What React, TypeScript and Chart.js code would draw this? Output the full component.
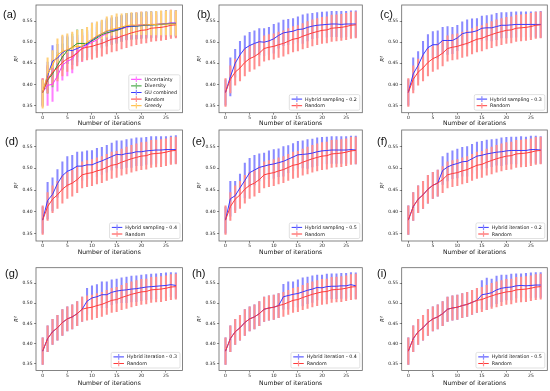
import React, { useEffect, useRef } from "react";
import { Chart, registerables } from "chart.js";

Chart.register(...registerables);
Chart.defaults.font.family = '"DejaVu Sans", sans-serif';

// ---------------- data ----------------
const ITERATIONS = [0, 1, 2, 3, 4, 5, 6, 7, 8, 9, 10, 11, 12, 13, 14, 15, 16, 17, 18, 19, 20, 21, 22, 23, 24, 25, 26, 27];
const X_TICKS = [0, 5, 10, 15, 20, 25];
const Y_TICKS = [0.35, 0.4, 0.45, 0.5, 0.55];

const RANDOM_MEAN = [0.381, 0.412, 0.429, 0.439, 0.452, 0.461, 0.466, 0.474, 0.485, 0.488, 0.490, 0.494, 0.497, 0.502, 0.507, 0.509, 0.514, 0.518, 0.522, 0.525, 0.528, 0.529, 0.533, 0.534, 0.535, 0.537, 0.540, 0.541];
const RANDOM_STD = [0.033, 0.032, 0.031, 0.031, 0.032, 0.030, 0.030, 0.030, 0.030, 0.030, 0.030, 0.030, 0.030, 0.030, 0.030, 0.030, 0.030, 0.031, 0.031, 0.031, 0.031, 0.031, 0.031, 0.031, 0.031, 0.031, 0.031, 0.031];

// panel (a)
const UNCERTAINTY_MEAN = [0.381, 0.398, 0.400, 0.420, 0.445, 0.455, 0.460, 0.478, 0.485, 0.493, 0.500, 0.505, 0.515, 0.520, 0.525, 0.528, 0.532, 0.535, 0.538, 0.540, 0.541, 0.541, 0.542, 0.542, 0.543, 0.544, 0.545, 0.545];
const UNCERTAINTY_STD = [0.033, 0.048, 0.040, 0.036, 0.035, 0.035, 0.033, 0.032, 0.031, 0.031, 0.030, 0.030, 0.030, 0.030, 0.030, 0.030, 0.030, 0.030, 0.030, 0.030, 0.030, 0.030, 0.030, 0.030, 0.030, 0.030, 0.031, 0.030];
const DIVERSITY_MEAN = [0.381, 0.410, 0.425, 0.445, 0.465, 0.480, 0.488, 0.497, 0.497, 0.497, 0.503, 0.510, 0.518, 0.522, 0.525, 0.528, 0.532, 0.537, 0.537, 0.538, 0.539, 0.540, 0.541, 0.541, 0.542, 0.543, 0.544, 0.544];
const DIVERSITY_STD = [0.030, 0.031, 0.031, 0.031, 0.031, 0.031, 0.031, 0.032, 0.033, 0.031, 0.031, 0.031, 0.031, 0.031, 0.031, 0.031, 0.031, 0.031, 0.031, 0.031, 0.031, 0.031, 0.031, 0.031, 0.031, 0.031, 0.031, 0.031];
const GU_MEAN = [0.381, 0.420, 0.455, 0.462, 0.475, 0.482, 0.480, 0.485, 0.490, 0.495, 0.505, 0.513, 0.520, 0.526, 0.528, 0.530, 0.533, 0.537, 0.538, 0.538, 0.540, 0.541, 0.541, 0.542, 0.543, 0.544, 0.545, 0.545];
const GU_STD = [0.030, 0.033, 0.037, 0.033, 0.038, 0.033, 0.033, 0.032, 0.032, 0.032, 0.040, 0.031, 0.031, 0.030, 0.030, 0.030, 0.030, 0.030, 0.030, 0.030, 0.030, 0.030, 0.030, 0.030, 0.030, 0.030, 0.030, 0.030];
const GREEDY_MEAN = [0.381, 0.425, 0.445, 0.470, 0.478, 0.482, 0.488, 0.490, 0.490, 0.500, 0.507, 0.515, 0.520, 0.527, 0.530, 0.533, 0.536, 0.539, 0.541, 0.540, 0.541, 0.541, 0.542, 0.542, 0.543, 0.543, 0.543, 0.543];
const GREEDY_ERR_UP = [0.029, 0.038, 0.035, 0.038, 0.039, 0.038, 0.036, 0.038, 0.040, 0.035, 0.038, 0.033, 0.032, 0.033, 0.033, 0.034, 0.031, 0.029, 0.029, 0.030, 0.031, 0.031, 0.030, 0.031, 0.031, 0.031, 0.033, 0.032];
const GREEDY_ERR_DOWN = [0.037, 0.000, 0.005, 0.018, 0.010, 0.006, 0.008, 0.002, 0.000, 0.003, 0.005, 0.010, 0.012, 0.015, 0.014, 0.017, 0.019, 0.021, 0.023, 0.022, 0.023, 0.023, 0.025, 0.025, 0.026, 0.026, 0.026, 0.027];

// hybrid sampling (b)-(e)
const HS02_MEAN = [0.381, 0.418, 0.450, 0.470, 0.485, 0.492, 0.497, 0.501, 0.500, 0.503, 0.508, 0.516, 0.522, 0.524, 0.526, 0.530, 0.531, 0.535, 0.538, 0.540, 0.541, 0.542, 0.543, 0.543, 0.542, 0.543, 0.543, 0.543];
const HS02_STD = [0.030, 0.045, 0.033, 0.032, 0.030, 0.031, 0.030, 0.031, 0.032, 0.032, 0.034, 0.030, 0.030, 0.030, 0.030, 0.030, 0.034, 0.032, 0.030, 0.030, 0.030, 0.030, 0.030, 0.030, 0.031, 0.030, 0.031, 0.031];
const HS03_MEAN = [0.381, 0.425, 0.445, 0.470, 0.487, 0.494, 0.494, 0.504, 0.504, 0.504, 0.510, 0.520, 0.523, 0.524, 0.527, 0.533, 0.534, 0.534, 0.537, 0.540, 0.540, 0.541, 0.542, 0.542, 0.542, 0.542, 0.542, 0.542];
const HS03_STD = [0.030, 0.038, 0.033, 0.032, 0.031, 0.031, 0.033, 0.031, 0.033, 0.031, 0.030, 0.028, 0.030, 0.031, 0.029, 0.029, 0.029, 0.031, 0.031, 0.030, 0.030, 0.030, 0.030, 0.030, 0.030, 0.030, 0.030, 0.031];
const HS04_MEAN = [0.381, 0.426, 0.440, 0.465, 0.483, 0.493, 0.498, 0.505, 0.505, 0.508, 0.508, 0.513, 0.517, 0.522, 0.527, 0.532, 0.531, 0.534, 0.535, 0.538, 0.538, 0.540, 0.541, 0.542, 0.542, 0.543, 0.543, 0.543];
const HS04_STD = [0.030, 0.042, 0.038, 0.032, 0.032, 0.034, 0.032, 0.032, 0.033, 0.032, 0.033, 0.033, 0.031, 0.031, 0.031, 0.031, 0.032, 0.032, 0.033, 0.032, 0.032, 0.031, 0.032, 0.031, 0.031, 0.030, 0.031, 0.032];
const HS05_MEAN = [0.381, 0.430, 0.437, 0.455, 0.472, 0.490, 0.496, 0.502, 0.505, 0.508, 0.510, 0.513, 0.516, 0.521, 0.526, 0.531, 0.532, 0.533, 0.535, 0.538, 0.540, 0.541, 0.542, 0.542, 0.542, 0.542, 0.543, 0.542];
const HS05_STD = [0.030, 0.040, 0.033, 0.032, 0.040, 0.033, 0.034, 0.031, 0.030, 0.032, 0.033, 0.032, 0.034, 0.031, 0.031, 0.031, 0.031, 0.033, 0.032, 0.032, 0.031, 0.031, 0.031, 0.031, 0.031, 0.031, 0.031, 0.032];

// hybrid iteration (f)-(i)
const HI02_MEAN = [0.381, 0.412, 0.429, 0.439, 0.452, 0.461, 0.466, 0.495, 0.503, 0.508, 0.511, 0.515, 0.516, 0.522, 0.528, 0.530, 0.533, 0.535, 0.537, 0.538, 0.540, 0.541, 0.541, 0.541, 0.541, 0.543, 0.543, 0.542];
const HI02_STD = [0.033, 0.032, 0.031, 0.031, 0.032, 0.030, 0.030, 0.032, 0.032, 0.032, 0.033, 0.033, 0.034, 0.033, 0.032, 0.032, 0.032, 0.031, 0.030, 0.032, 0.031, 0.031, 0.031, 0.032, 0.031, 0.031, 0.031, 0.031];
const HI03_MEAN = [0.381, 0.412, 0.429, 0.439, 0.452, 0.461, 0.466, 0.474, 0.485, 0.505, 0.513, 0.516, 0.521, 0.521, 0.527, 0.530, 0.532, 0.533, 0.535, 0.536, 0.538, 0.540, 0.541, 0.542, 0.543, 0.544, 0.546, 0.544];
const HI03_STD = [0.033, 0.032, 0.031, 0.031, 0.032, 0.030, 0.030, 0.030, 0.030, 0.032, 0.030, 0.030, 0.032, 0.032, 0.031, 0.030, 0.031, 0.032, 0.032, 0.032, 0.032, 0.031, 0.031, 0.031, 0.031, 0.031, 0.030, 0.031];
const HI04_MEAN = [0.381, 0.412, 0.429, 0.439, 0.452, 0.461, 0.466, 0.474, 0.485, 0.488, 0.490, 0.494, 0.516, 0.519, 0.522, 0.524, 0.528, 0.532, 0.535, 0.539, 0.538, 0.541, 0.542, 0.542, 0.543, 0.543, 0.546, 0.543];
const HI04_STD = [0.033, 0.032, 0.031, 0.031, 0.032, 0.030, 0.030, 0.030, 0.030, 0.030, 0.030, 0.030, 0.031, 0.034, 0.031, 0.034, 0.035, 0.033, 0.033, 0.031, 0.032, 0.031, 0.031, 0.031, 0.031, 0.031, 0.030, 0.032];
const HI05_MEAN = [0.381, 0.412, 0.429, 0.439, 0.452, 0.461, 0.466, 0.474, 0.485, 0.488, 0.490, 0.494, 0.497, 0.502, 0.507, 0.521, 0.523, 0.526, 0.533, 0.537, 0.539, 0.540, 0.543, 0.544, 0.543, 0.544, 0.545, 0.545];
const HI05_STD = [0.033, 0.032, 0.031, 0.031, 0.032, 0.030, 0.030, 0.030, 0.030, 0.030, 0.030, 0.030, 0.030, 0.030, 0.030, 0.035, 0.039, 0.034, 0.034, 0.033, 0.031, 0.032, 0.030, 0.029, 0.031, 0.031, 0.031, 0.031];

// ---------------- styles ----------------
const C_BLUE = { line: "#3838ff", bar: "#8a8aff" };
const C_RED = { line: "#ff3a3a", bar: "#ff8e8e" };
const C_MAGENTA = { line: "#ff33ff", bar: "#ff80ff" };
const C_GREEN = { line: "#2a9a2a", bar: "#80c080" };
const C_ORANGE = { line: "#ffb52e", bar: "#ffd07a" };

type Series = { name: string; mean: number[]; down: number[]; up: number[]; color: { line: string; bar: string } };

const randomSeries: Series = { name: "Random", mean: RANDOM_MEAN, down: RANDOM_STD, up: RANDOM_STD, color: C_RED };
const hybrid = (name: string, mean: number[], std: number[]): Series => ({ name, mean, down: std, up: std, color: C_BLUE });

const PANELS: { label: string; series: Series[] }[] = [
  {
    label: "(a)",
    series: [
      { name: "Uncertainty", mean: UNCERTAINTY_MEAN, down: UNCERTAINTY_STD, up: UNCERTAINTY_STD, color: C_MAGENTA },
      { name: "Diversity", mean: DIVERSITY_MEAN, down: DIVERSITY_STD, up: DIVERSITY_STD, color: C_GREEN },
      { name: "GU combined", mean: GU_MEAN, down: GU_STD, up: GU_STD, color: C_BLUE },
      randomSeries,
      { name: "Greedy", mean: GREEDY_MEAN, down: GREEDY_ERR_DOWN, up: GREEDY_ERR_UP, color: C_ORANGE },
    ],
  },
  { label: "(b)", series: [hybrid("Hybrid sampling - 0.2", HS02_MEAN, HS02_STD), randomSeries] },
  { label: "(c)", series: [hybrid("Hybrid sampling - 0.3", HS03_MEAN, HS03_STD), randomSeries] },
  { label: "(d)", series: [hybrid("Hybrid sampling - 0.4", HS04_MEAN, HS04_STD), randomSeries] },
  { label: "(e)", series: [hybrid("Hybrid sampling - 0.5", HS05_MEAN, HS05_STD), randomSeries] },
  { label: "(f)", series: [hybrid("Hybrid iteration - 0.2", HI02_MEAN, HI02_STD), randomSeries] },
  { label: "(g)", series: [hybrid("Hybrid iteration - 0.3", HI03_MEAN, HI03_STD), randomSeries] },
  { label: "(h)", series: [hybrid("Hybrid iteration - 0.4", HI04_MEAN, HI04_STD), randomSeries] },
  { label: "(i)", series: [hybrid("Hybrid iteration - 0.5", HI05_MEAN, HI05_STD), randomSeries] },
];

// layout geometry (page pixels)
const COLS = [
  { left: 0, boxL: 36, boxR: 182.5 },
  { left: 183, boxL: 219, boxR: 362.3 },
  { left: 366, boxL: 401.7, boxR: 547.3 },
];
const ROWS = [
  { top: 0, boxT: 5, boxB: 112.7, titleC: 123, bottom: 128 },
  { top: 124, boxT: 130, boxB: 241, titleC: 252, bottom: 257 },
  { top: 254, boxT: 267.7, boxB: 370.5, titleC: 383, bottom: 391 },
];
const LABEL_POS = [
  { x: 3, y: 14 }, { x: 197, y: 14 }, { x: 380, y: 14 },
  { x: 5, y: 141 }, { x: 192, y: 141 }, { x: 377, y: 141 },
  { x: 5, y: 273 }, { x: 192, y: 273 }, { x: 377, y: 273 },
];
const CANVAS_W = 184;
const TICK_FONT = 4.5;
const XTITLE_FONT = 6.1;
const YTITLE_FONT = 5.5;
const LEG_FONT = 4.8;
const ERR_WIDTH = 1.4;

const framePlugin = {
  id: "frameLegend",
  afterDraw(chart: any) {
    const { ctx, chartArea: a } = chart;
    ctx.save();
    ctx.strokeStyle = "rgba(0,0,0,0.6)";
    ctx.lineWidth = 0.8;
    ctx.strokeRect(a.left, a.top, a.right - a.left, a.bottom - a.top);

    const items = chart.data.datasets.filter((d: any) => d.type === "line" && d.label);
    ctx.font = `${LEG_FONT}px "DejaVu Sans"`;
    const tw = Math.max(...items.map((d: any) => ctx.measureText(d.label).width));
    const rowH = 6.6, handle = 10.5, gap = 3, padL = 2.3, padR = 3, padV = 1.2;
    const w = padL + handle + gap + tw + padR;
    const h = items.length * rowH + 2 * padV;
    const x0 = a.right - 2.5 - w;
    const y0 = a.bottom - 2.5 - h;
    ctx.beginPath();
    ctx.roundRect(x0, y0, w, h, 1.5);
    ctx.fillStyle = "rgba(255,255,255,0.85)";
    ctx.fill();
    ctx.strokeStyle = "#cccccc";
    ctx.lineWidth = 0.6;
    ctx.stroke();
    items.forEach((d: any, k: number) => {
      const cy = y0 + padV + rowH * (k + 0.5);
      const hx = x0 + padL;
      ctx.strokeStyle = d.borderColor;
      ctx.lineWidth = 1;
      ctx.beginPath();
      ctx.moveTo(hx, cy);
      ctx.lineTo(hx + handle, cy);
      ctx.stroke();
      ctx.strokeStyle = d.errColor;
      ctx.lineWidth = 1.2;
      ctx.beginPath();
      ctx.moveTo(hx + handle / 2, cy - 2.8);
      ctx.lineTo(hx + handle / 2, cy + 2.8);
      ctx.stroke();
      ctx.fillStyle = "#111";
      ctx.textBaseline = "middle";
      ctx.textAlign = "left";
      ctx.fillText(d.label, hx + handle + gap, cy + 0.3);
    });
    ctx.restore();
  },
};

function Panel({ index }: { index: number }) {
  const ref = useRef<HTMLCanvasElement>(null);
  const col = COLS[index % 3];
  const row = ROWS[Math.floor(index / 3)];
  const height = row.bottom - row.top;

  useEffect(() => {
    const panel = PANELS[index];
    const n = panel.series.length;
    const padLeft = 13.5;
    const yAxisW = col.boxL - col.left - padLeft;
    const xAxisH = row.titleC - row.boxB + (XTITLE_FONT * 1.2) / 2;
    const padTop = row.boxT - row.top;
    const padBottom = row.bottom - row.boxB - xAxisH;
    const padRight = col.left + CANVAS_W - col.boxR;

    const datasets: any[] = [];
    panel.series.forEach((s, i) => {
      datasets.push({
        type: "bar",
        label: "",
        data: ITERATIONS.map((x, k) => ({ x, y: [s.mean[k] - s.down[k], s.mean[k] + s.up[k]] })),
        backgroundColor: s.color.bar,
        barThickness: ERR_WIDTH,
        maxBarThickness: ERR_WIDTH,
        barPercentage: 0.28,
        categoryPercentage: 1,
        grouped: false,
        borderWidth: 0,
        order: 100 + n - i,
      });
    });
    panel.series.forEach((s, i) => {
      datasets.push({
        type: "line",
        label: s.name,
        data: ITERATIONS.map((x, k) => ({ x, y: s.mean[k] })),
        borderColor: s.color.line,
        errColor: s.color.bar,
        borderWidth: 1,
        pointRadius: 0,
        fill: false,
        tension: 0,
        order: n - i,
      });
    });

    const tickGrid = { display: true, drawOnChartArea: false, drawTicks: true, tickLength: 2, color: "#444", lineWidth: 0.6 };
    const chart = new Chart(ref.current as HTMLCanvasElement, {
      type: "line",
      data: { datasets },
      options: {
        animation: false,
        responsive: false,
        events: [],
        layout: { padding: { left: padLeft, right: padRight, top: padTop, bottom: padBottom } },
        plugins: { legend: { display: false }, tooltip: { enabled: false } },
        scales: {
          x: {
            type: "linear",
            min: -1.35,
            max: 28.35,
            offset: false,
            afterBuildTicks: (s: any) => { s.ticks = X_TICKS.map((v) => ({ value: v })); },
            afterFit: (s: any) => { s.height = xAxisH; },
            ticks: { autoSkip: false, maxRotation: 0, minRotation: 0, padding: 0.5, color: "#222", font: { size: TICK_FONT } },
            grid: { ...tickGrid, offset: false },
            border: { display: false },
            title: { display: true, text: "Number of iterations", color: "#111", padding: 0, font: { size: XTITLE_FONT } },
          },
          y: {
            type: "linear",
            min: 0.333,
            max: 0.588,
            beginAtZero: false,
            afterBuildTicks: (s: any) => { s.ticks = Y_TICKS.map((v) => ({ value: v })); },
            afterFit: (s: any) => { s.width = yAxisW; },
            ticks: { padding: 1.5, color: "#222", font: { size: TICK_FONT }, callback: (v: any) => Number(v).toFixed(2) },
            grid: tickGrid,
            border: { display: false },
            title: { display: true, text: "R²", color: "#111", padding: 0, font: { size: YTITLE_FONT, style: "italic" } },
          },
        },
      } as any,
      plugins: [framePlugin],
    });
    return () => chart.destroy();
  }, []);

  return (
    <canvas
      ref={ref}
      width={CANVAS_W}
      height={height}
      style={{ position: "absolute", left: col.left, top: row.top, width: CANVAS_W, height }}
    />
  );
}

export default function App() {
  return (
    <div style={{ position: "fixed", left: 0, top: 0, width: 550, height: 391, background: "#fff", overflow: "hidden" }}>
      {PANELS.map((p, i) => (
        <Panel key={p.label} index={i} />
      ))}
      {PANELS.map((p, i) => (
        <div
          key={"l" + p.label}
          style={{
            position: "absolute",
            left: LABEL_POS[i].x,
            top: LABEL_POS[i].y - 6,
            fontFamily: '"Liberation Sans", Arial, sans-serif',
            fontSize: 11,
            lineHeight: "12px",
            color: "#111",
          }}
        >
          {p.label}
        </div>
      ))}
    </div>
  );
}
